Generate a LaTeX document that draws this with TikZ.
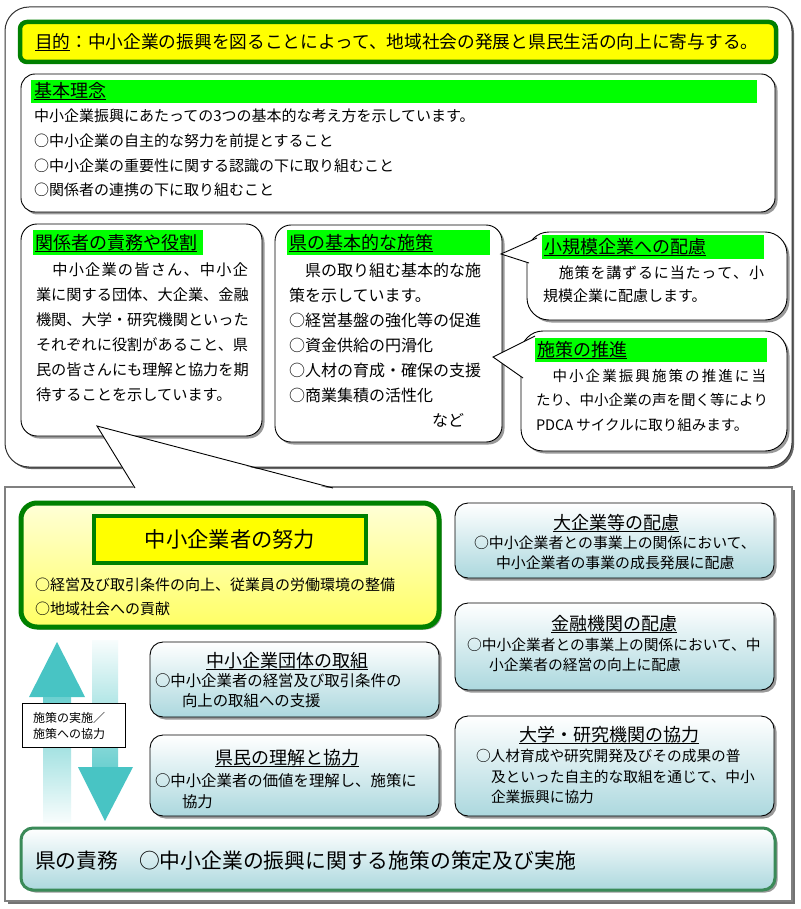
\documentclass[tikz,border=0pt]{standalone}
\usepackage{fontspec}
\setmainfont{Noto Sans CJK JP}
\usetikzlibrary{shadows}
\definecolor{dgreen}{RGB}{0,128,0}
\definecolor{hgreen}{RGB}{0,255,0}
\definecolor{yel}{RGB}{255,255,0}
\definecolor{tealA}{RGB}{72,196,196}
\definecolor{paleB}{RGB}{172,216,222}
\definecolor{kgreen}{RGB}{58,138,88}
\definecolor{lyel}{RGB}{255,255,215}
\definecolor{myel}{RGB}{255,255,100}
\newcommand\myul[1]{\setbox0=\hbox{#1}\rlap{\rule[-2.6pt]{\wd0}{1.1pt}}\box0}
\def\sprrest#1{\ifx#1\relax\else\hfil#1\expandafter\sprrest\fi}
\newcommand\spr[3]{\makebox[#1][s]{#2\sprrest#3\relax}}
\newcommand\myfs[1]{\fontsize{#1}{#1}\selectfont}
\begin{document}
\begin{tikzpicture}[x=1pt,y=-1pt,
 every node/.style={inner sep=0pt,outer sep=0pt},
 shad/.style={drop shadow={shadow xshift=2.5pt,shadow yshift=-2.5pt,fill=black!50,opacity=0.8}},
 bub/.style={anchor=north west,draw=black,line width=0.9pt,fill=white,rounded corners=#1,shad},
 bub/.default=16pt,
 hbar/.style={anchor=north west,fill=hgreen},
 tl/.style={anchor=west},
 bluebox/.style={anchor=north west,draw=black,line width=0.9pt,rounded corners=13pt,top color=white,bottom color=paleB,shad},
]
\useasboundingbox (0,0) rectangle (800,909);

% ---------- top region ----------
\node[anchor=north west,draw=black!80,line width=1pt,fill=white,rounded corners=24pt,drop shadow={shadow xshift=2pt,shadow yshift=-2pt,fill=black!60,opacity=1},minimum width=787pt,minimum height=460pt] (topbox) at (5,7) {};

\node[anchor=north west,draw=dgreen,line width=4.5pt,fill=yel,rounded corners=7pt,minimum width=756pt,minimum height=40pt] (purp) at (20,22) {};
\node[tl,font=\myfs{17.7}] (purpt) at (35,42.5) {\myul{目的}：中小企業の振興を図ることによって、地域社会の発展と県民生活の向上に寄与する。};

% kihon rinen
\node[bub=14pt,minimum width=754pt,minimum height=138pt] (kihon) at (21,74) {};
\node[hbar,minimum width=726pt,minimum height=23pt] (kihonh) at (31,80) {};
\node[tl,font=\myfs{18}] (kihont) at (34,91.5) {\myul{基本理念}};
\node[tl,font=\myfs{15}] (k1) at (34,116) {中小企業振興にあたっての3つの基本的な考え方を示しています。};
\node[tl,font=\myfs{15}] (k2) at (34,141) {○中小企業の自主的な努力を前提とすること};
\node[tl,font=\myfs{15}] (k3) at (34,166) {○中小企業の重要性に関する認識の下に取り組むこと};
\node[tl,font=\myfs{15}] (k4) at (34,190) {○関係者の連携の下に取り組むこと};

% kankeisha
\node[bub,minimum width=241pt,minimum height=212pt] (kankei) at (21,224) {};
\node[hbar,minimum width=170pt,minimum height=25pt] (kankeih) at (33,230) {};
\node[tl,font=\myfs{18}] (kankeit) at (35,243) {\myul{関係者の責務や役割}};
\node[tl,font=\myfs{15.2}] (r1) at (36,270) {\spr{212pt}{　}{中小企業の皆さん、中小企}};
\node[tl,font=\myfs{15.2}] (r2) at (36,295) {業に関する団体、大企業、金融};
\node[tl,font=\myfs{15.2}] (r3) at (36,320) {機関、大学・研究機関といった};
\node[tl,font=\myfs{15.2}] (r4) at (36,345) {それぞれに役割があること、県};
\node[tl,font=\myfs{15.2}] (r5) at (36,370) {民の皆さんにも理解と協力を期};
\node[tl,font=\myfs{15.2}] (r6) at (36,395) {待することを示しています。};

% ken no kihonteki na shisaku
\node[bub,minimum width=227pt,minimum height=217pt] (ken) at (275,225) {};
\node[hbar,minimum width=203pt,minimum height=25pt] (kenh) at (287,230) {};
\node[tl,font=\myfs{18}] (kent) at (289,243) {\myul{県の基本的な施策}};
\node[tl,font=\myfs{16}] (s1) at (289,270) {　県の取り組む基本的な施};
\node[tl,font=\myfs{16}] (s2) at (289,295) {策を示しています。};
\node[tl,font=\myfs{16}] (s3) at (289,320) {○経営基盤の強化等の促進};
\node[tl,font=\myfs{16}] (s4) at (289,345) {○資金供給の円滑化};
\node[tl,font=\myfs{16}] (s5) at (289,370) {○人材の育成・確保の支援};
\node[tl,font=\myfs{16}] (s6) at (289,395) {○商業集積の活性化};
\node[anchor=east,font=\myfs{16}] (nado) at (464,420) {など};

% shokibo
\node[bub=22pt,minimum width=260pt,minimum height=88pt] (shoki) at (527,232) {};
\node[hbar,minimum width=222pt,minimum height=24pt] (shokih) at (542,235) {};
\node[tl,font=\myfs{18}] (shokit) at (544,247) {\myul{小規模企業への配慮}};
\node[tl,font=\myfs{15}] (p1) at (543,273) {\spr{221pt}{　}{施策を講ずるに当たって、小}};
\node[tl,font=\myfs{15}] (p2) at (543,296) {規模企業に配慮します。};

% suishin
\node[bub=22pt,minimum width=266pt,minimum height=120pt] (sui) at (521,331) {};
\node[hbar,minimum width=232pt,minimum height=24pt] (suih) at (535,338) {};
\node[tl,font=\myfs{18}] (suit) at (537,350) {\myul{施策の推進}};
\node[tl,font=\myfs{14.5}] (q1) at (536,376) {\spr{230pt}{　}{中小企業振興施策の推進に当}};
\node[tl,font=\myfs{14.5}] (q2) at (536,400) {\spr{230pt}{た}{り、中小企業の声を聞く等により}};
\node[tl,font=\myfs{14.5}] (q3) at (536,425) {PDCA サイクルに取り組みます。};

% pointers of the right bubbles
\coordinate (tipA) at (501,254);
\coordinate (a1) at (537,238);
\coordinate (a2) at (529,263);
\fill[white] (tipA) -- (a1) -- (a2) -- cycle;
\draw[line width=0.9pt] (a1) -- (tipA) -- (a2);
\coordinate (tipB) at (493,357);
\coordinate (b1) at (535,336);
\coordinate (b2) at (523,378);
\fill[white] (tipB) -- (b1) -- (b2) -- cycle;
\draw[line width=0.9pt] (b1) -- (tipB) -- (b2);

% ---------- lower region ----------
\node[anchor=north west,draw=black!50,line width=1.2pt,fill=white,drop shadow={shadow xshift=2.5pt,shadow yshift=-2.5pt,fill=black!55,opacity=1},minimum width=787pt,minimum height=414pt] (low) at (5,487) {};

% wedge from kankeisha box
\coordinate (tipC) at (97,426);
\coordinate (c1) at (135,488);
\coordinate (c2) at (333,488);
\fill[white] (tipC) -- (135,489.5) -- (333,489.5) -- cycle;
\draw[line width=0.9pt] (c1) -- (tipC) -- (c2);

% effort
\node[anchor=north west,draw=dgreen,line width=5pt,rounded corners=16pt,top color=lyel,bottom color=myel,shad,minimum width=418pt,minimum height=124pt] (effort) at (21,503) {};
\node[anchor=north west,draw=dgreen,line width=4pt,fill=yel,minimum width=272pt,minimum height=47pt] (efft) at (94,516) {};
\node[font=\myfs{21.3}] (efftt) at (efft.center) {中小企業者の努力};
\node[tl,font=\myfs{15}] (e1) at (35,585) {○経営及び取引条件の向上、従業員の労働環境の整備};
\node[tl,font=\myfs{15}] (e2) at (35,609) {○地域社会への貢献};

% arrows
\fill[tealA] (57,642) -- (85,697) -- (29,697) -- cycle;
\shade[top color=tealA!80,bottom color=tealA!4] (43,697) rectangle (71,822);
\shade[top color=tealA!4,bottom color=tealA!80] (92,640) rectangle (118,767);
\fill[tealA] (78,767) -- (133,767) -- (105,821) -- cycle;

% label
\node[anchor=north west,draw=black,line width=0.8pt,fill=white,minimum width=103pt,minimum height=44pt] (lab) at (22,703) {};
\node[tl,font=\myfs{12}] (lab1) at (33,718) {施策の実施／};
\node[tl,font=\myfs{12}] (lab2) at (33,734) {施策への協力};

% dantai
\node[bluebox,minimum width=289pt,minimum height=75pt] (dantai) at (150,642) {};
\node[font=\myfs{18}] (dantait) at (287,661) {\myul{中小企業団体の取組}};
\node[tl,font=\myfs{15.4}] (d1) at (155,681) {○中小企業者の経営及び取引条件の};
\node[tl,font=\myfs{15.4}] (d2) at (182,701) {向上の取組への支援};

% kenmin
\node[bluebox,minimum width=289pt,minimum height=81pt] (kenmin) at (150,735) {};
\node[font=\myfs{18}] (kenmint) at (287,758) {\myul{県民の理解と協力}};
\node[tl,font=\myfs{15.4}] (m1) at (155,781) {○中小企業者の価値を理解し、施策に};
\node[tl,font=\myfs{15.4}] (m2) at (182,802) {協力};

% daikigyo
\node[bluebox,minimum width=319pt,minimum height=75pt] (dai) at (455,503) {};
\node[font=\myfs{18}] (dait) at (616,523) {\myul{大企業等の配慮}};
\node[tl,font=\myfs{14.9}] (g1) at (474,543) {○中小企業者との事業上の関係において、};
\node[tl,font=\myfs{14.9}] (g2) at (496,563) {中小企業者の事業の成長発展に配慮};

% kinyu
\node[bluebox,minimum width=319pt,minimum height=87pt] (kin) at (455,603) {};
\node[font=\myfs{18}] (kint) at (614,624) {\myul{金融機関の配慮}};
\node[tl,font=\myfs{14.75}] (f1) at (467,645) {○中小企業者との事業上の関係において、中};
\node[tl,font=\myfs{14.75}] (f2) at (489,665) {小企業者の経営の向上に配慮};

% daigaku
\node[bluebox,minimum width=319pt,minimum height=100pt] (daig) at (455,716) {};
\node[font=\myfs{18}] (daigt) at (609,735) {\myul{大学・研究機関の協力}};
\node[tl,font=\myfs{14.7}] (u1) at (476,756) {○人材育成や研究開発及びその成果の普};
\node[tl,font=\myfs{14.7}] (u2) at (491,777) {及といった自主的な取組を通じて、中小};
\node[tl,font=\myfs{14.7}] (u3) at (491,797) {企業振興に協力};

% ken no sekimu
\node[anchor=north west,draw=kgreen,line width=3pt,rounded corners=12pt,top color=white,bottom color=paleB,shad,minimum width=754pt,minimum height=62pt] (seki) at (21,828) {};
\node[tl,font=\myfs{20.8}] (sekit) at (35,861) {県の責務　○中小企業の振興に関する施策の策定及び実施};
\end{tikzpicture}
\end{document}
